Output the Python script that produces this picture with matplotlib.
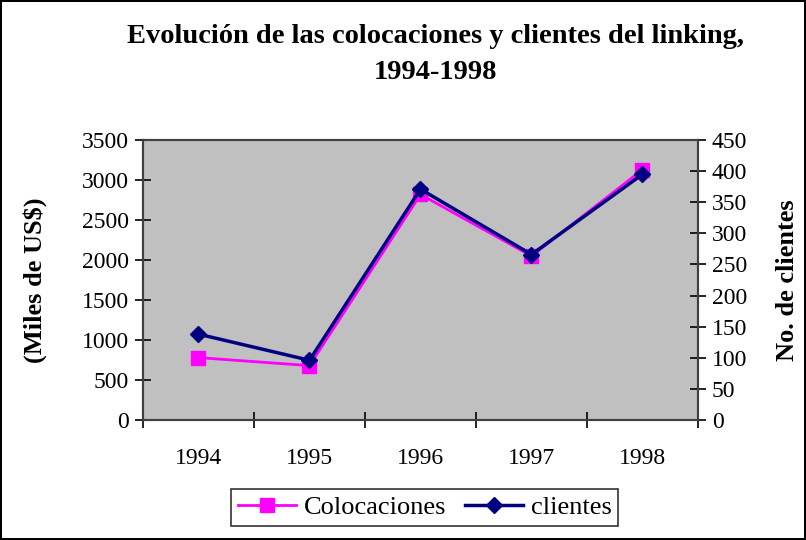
# Evolución de las colocaciones y clientes del linking, 1994-1998
import numpy as np
import matplotlib.pyplot as plt

plt.rcParams['font.family'] = ['Liberation Serif', 'DejaVu Serif']

years = ['1994', '1995', '1996', '1997', '1998']
colocaciones = [780, 680, 2820, 2050, 3130]   # miles de US$
clientes = [138, 96, 371, 266, 395]           # no. de clientes

x = np.arange(len(years))

fig = plt.figure(figsize=(8.06, 5.4), dpi=100)
fig.patch.set_edgecolor('black')
fig.patch.set_linewidth(1.5)

ax = fig.add_axes([0.1774, 0.2222, 0.6886, 0.5185])
ax.set_facecolor('#C0C0C0')
p1, = ax.plot(x, colocaciones, color='#FF00FF', lw=2, marker='s', ms=9.5,
              label='Colocaciones', zorder=3)
ax.set_xlim(-0.5, 4.5)
ax.set_ylim(0, 3500)
ax.set_yticks(np.arange(0, 3501, 500))
ax.set_xticks(np.arange(-0.5, 4.6, 1))
ax.set_xticklabels([])
ax.set_xticks(x, minor=True)
ax.set_xticklabels(years, minor=True)
ax.tick_params(axis='x', which='minor', length=0, labelsize=17, pad=20)
ax.tick_params(axis='x', which='major', direction='inout', length=12, width=1.2)
ax.tick_params(axis='y', direction='inout', length=12, width=1.2, labelsize=17, pad=4)
ax.set_ylabel('(Miles de US$)', fontsize=19, fontweight='bold', labelpad=25)
for s in ax.spines.values():
    s.set_color('#404040')
    s.set_linewidth(1.5)

ax2 = ax.twinx()
p2, = ax2.plot(x, clientes, color='#000080', lw=2.5, marker='D', ms=8.5,
               label='clientes', zorder=4)
ax2.set_ylim(0, 450)
ax2.set_yticks(np.arange(0, 451, 50))
ax2.tick_params(axis='y', direction='inout', length=12, width=1.2, labelsize=17, pad=4)
ax2.set_ylabel('No. de clientes', fontsize=19, fontweight='bold', labelpad=21)
for s in ax2.spines.values():
    s.set_color('#404040')
    s.set_linewidth(1.5)

fig.suptitle('Evolución de las colocaciones y clientes del linking,\n1994-1998',
             x=0.54, y=0.955, fontsize=20.5, fontweight='bold', linespacing=1.55)

leg = fig.legend([p1, p2], ['Colocaciones', 'clientes'], loc='center',
                 bbox_to_anchor=(0.527, 0.060), ncol=2, fontsize=19,
                 frameon=True, fancybox=False, edgecolor='black',
                 handlelength=2.2, columnspacing=0.7, handletextpad=0.3,
                 borderpad=0.25)
leg.get_frame().set_linewidth(1.2)

plt.savefig('out.png', dpi=100, edgecolor=fig.get_edgecolor())
